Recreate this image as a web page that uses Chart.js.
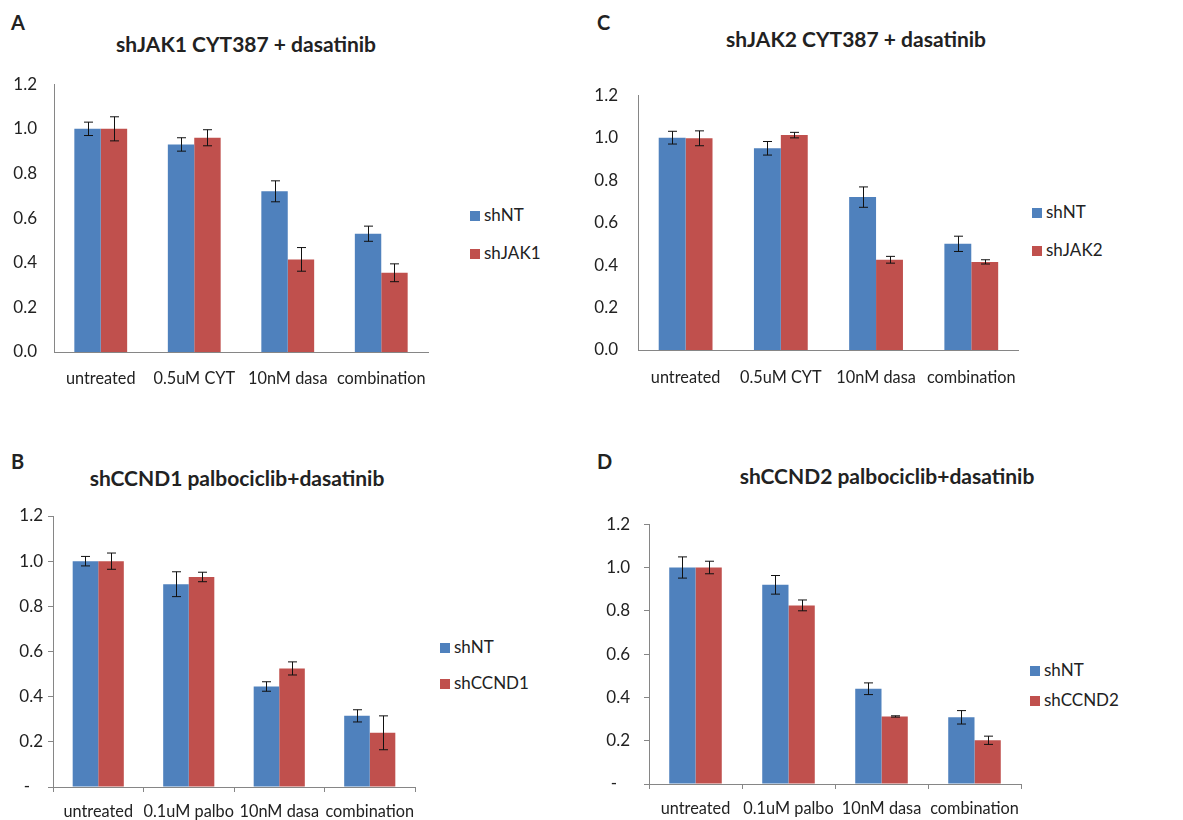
<!DOCTYPE html>
<html>
<head>
<meta charset="utf-8">
<script src="https://cdn.jsdelivr.net/npm/chart.js@4.4.1/dist/chart.umd.min.js"></script>
<style>
  body { margin:0; background:#fff; font-family:Lato, sans-serif; color:#222; }
  #page { position:relative; width:1183px; height:820px; overflow:hidden; }
  .panel-box { position:absolute; }
  .letter { position:absolute; font-weight:bold; font-size:20px; }
  .title { position:absolute; font-weight:bold; font-size:21px; transform:translate(-50%,-50%); white-space:nowrap; }
  .leg { position:absolute; font-size:17px; white-space:nowrap; line-height:20px; }
  .leg i { display:inline-block; width:10px; height:10px; margin-right:4px; vertical-align:0px; }
</style>
</head>
<body>
<div id="page"></div>
<script>
// categories
const catsCyt = ['untreated', '0.5uM CYT', '10nM dasa', 'combination'];
const catsPalbo = ['untreated', '0.1uM palbo', '10nM dasa', 'combination'];

// A: shJAK1
const jak1NT = [1.00, 0.93, 0.72, 0.53];
const jak1NTErr = [0.030, 0.030, 0.047, 0.034];
const jak1KD = [1.00, 0.96, 0.415, 0.355];
const jak1KDErr = [0.054, 0.036, 0.053, 0.040];

// C: shJAK2
const jak2NT = [1.00, 0.95, 0.72, 0.50];
const jak2NTErr = [0.030, 0.032, 0.048, 0.036];
const jak2KD = [0.997, 1.012, 0.425, 0.415];
const jak2KDErr = [0.035, 0.013, 0.016, 0.010];

// B: shCCND1
const ccnd1NT = [1.00, 0.898, 0.445, 0.315];
const ccnd1NTErr = [0.021, 0.055, 0.021, 0.027];
const ccnd1KD = [1.00, 0.93, 0.525, 0.24];
const ccnd1KDErr = [0.036, 0.021, 0.029, 0.075];

// D: shCCND2
const ccnd2NT = [1.00, 0.92, 0.44, 0.308];
const ccnd2NTErr = [0.049, 0.043, 0.027, 0.031];
const ccnd2KD = [1.00, 0.825, 0.312, 0.202];
const ccnd2KDErr = [0.029, 0.025, 0.003, 0.019];

const yMax = 1.2, yStep = 0.2;
const BLUE = '#4F81BD', RED = '#C0504D', AXIS = '#868686';

// whiskers drawn on top of each bar from the dataset's err array
const errorBars = {
  id:'errorBars',
  afterDatasetsDraw(chart){
    const ctx = chart.ctx, y = chart.scales.y;
    ctx.save();
    ctx.strokeStyle = '#111'; ctx.lineWidth = 1;
    chart.data.datasets.forEach((ds, di)=>{
      chart.getDatasetMeta(di).data.forEach((bar, i)=>{
        const v = ds.data[i], e = ds.err[i];
        const x = Math.round(bar.x) + 0.5;
        const t = y.getPixelForValue(v + e), b = y.getPixelForValue(v - e);
        ctx.beginPath();
        ctx.moveTo(x, t); ctx.lineTo(x, b);
        ctx.moveTo(x - 4.5, t); ctx.lineTo(x + 4.5, t);
        ctx.moveTo(x - 4.5, b); ctx.lineTo(x + 4.5, b);
        ctx.stroke();
      });
    });
    ctx.restore();
  }
};

const page = document.getElementById('page');
function addDiv(cls, html, css){
  const d = document.createElement('div'); d.className = cls; d.innerHTML = html;
  Object.assign(d.style, css); page.appendChild(d); return d;
}

function panel(p){
  addDiv('letter', p.letter, {left:p.letterX+'px', top:p.letterY+'px'});
  addDiv('title', p.title, {left:p.titleX+'px', top:p.titleY+'px'});
  p.legendY.forEach((ly, i)=>{
    addDiv('leg', `<i style="background:${[BLUE,RED][i]}"></i>${p.names[i]}`,
      {left:p.legendX+'px', top:(ly-10)+'px'});
  });

  const box = addDiv('panel-box', '', {left:p.left+'px', top:p.top+'px', width:p.w+'px', height:p.h+'px'});
  const cv = document.createElement('canvas'); box.appendChild(cv);
  const ticked = p.ticks;

  new Chart(cv.getContext('2d'), {
    type:'bar',
    data:{
      labels:p.cats,
      datasets:[
        {label:p.names[0], data:p.nt, err:p.ntErr, backgroundColor:BLUE},
        {label:p.names[1], data:p.kd, err:p.kdErr, backgroundColor:RED}
      ]
    },
    options:{
      responsive:true, maintainAspectRatio:false, animation:false,
      layout:{padding:{top:p.padTop, right:p.padRight, left:0, bottom:0}},
      datasets:{bar:{categoryPercentage:0.565, barPercentage:1.0}},
      plugins:{legend:{display:false}, tooltip:{enabled:false}},
      scales:{
        x:{
          grid:{display:ticked, drawOnChartArea:false, tickLength:5, color:AXIS, offset:true},
          border:{display:true, color:AXIS},
          ticks:{color:'#222', font:{family:'Lato', size:16.3}, padding:p.xPad, maxRotation:0, autoSkip:false},
          afterFit:s=>{ s.height = p.xH; }
        },
        y:{
          min:0, max:yMax,
          grid:{display:ticked, drawOnChartArea:false, tickLength:5, color:AXIS},
          border:{display:true, color:AXIS},
          ticks:{stepSize:yStep, color:'#222', font:{family:'Lato', size:17}, padding:p.yPad,
            callback:v=> (ticked && v === 0) ? '-   ' : v.toFixed(1)},
          afterFit:s=>{ s.width = p.yW; }
        }
      }
    },
    plugins:[errorBars]
  });
}

panel({letter:'A', letterX:11, letterY:10, title:'shJAK1 CYT387 + dasatinib', titleX:246, titleY:43,
  names:['shNT','shJAK1'], legendX:470, legendY:[215,253],
  left:0, top:62, w:440, h:342, yW:54, padTop:17, padRight:12, xH:52, xPad:12, yPad:12, ticks:false,
  cats:catsCyt, nt:jak1NT, ntErr:jak1NTErr, kd:jak1KD, kdErr:jak1KDErr});

panel({letter:'C', letterX:597, letterY:10, title:'shJAK2 CYT387 + dasatinib', titleX:856, titleY:38,
  names:['shNT','shJAK2'], legendX:1032, legendY:[212,250],
  left:580, top:70, w:450, h:340, yW:58, padTop:16, padRight:11, xH:60, xPad:13, yPad:15, ticks:false,
  cats:catsCyt, nt:jak2NT, ntErr:jak2NTErr, kd:jak2KD, kdErr:jak2KDErr});

panel({letter:'B', letterX:11, letterY:449, title:'shCCND1 palbociclib+dasatinib', titleX:237, titleY:477,
  names:['shNT','shCCND1'], legendX:440, legendY:[647,683],
  left:0, top:500, w:430, h:320, yW:53, padTop:16, padRight:15, xH:33, xPad:10, yPad:5, ticks:true,
  cats:catsPalbo, nt:ccnd1NT, ntErr:ccnd1NTErr, kd:ccnd1KD, kdErr:ccnd1KDErr});

panel({letter:'D', letterX:597, letterY:449, title:'shCCND2 palbociclib+dasatinib', titleX:887, titleY:475,
  names:['shNT','shCCND2'], legendX:1030, legendY:[670,700],
  left:580, top:500, w:455, h:320, yW:69, padTop:16, padRight:14, xH:36, xPad:10, yPad:14, ticks:true,
  cats:catsPalbo, nt:ccnd2NT, ntErr:ccnd2NTErr, kd:ccnd2KD, kdErr:ccnd2KDErr});
</script>
</body>
</html>
